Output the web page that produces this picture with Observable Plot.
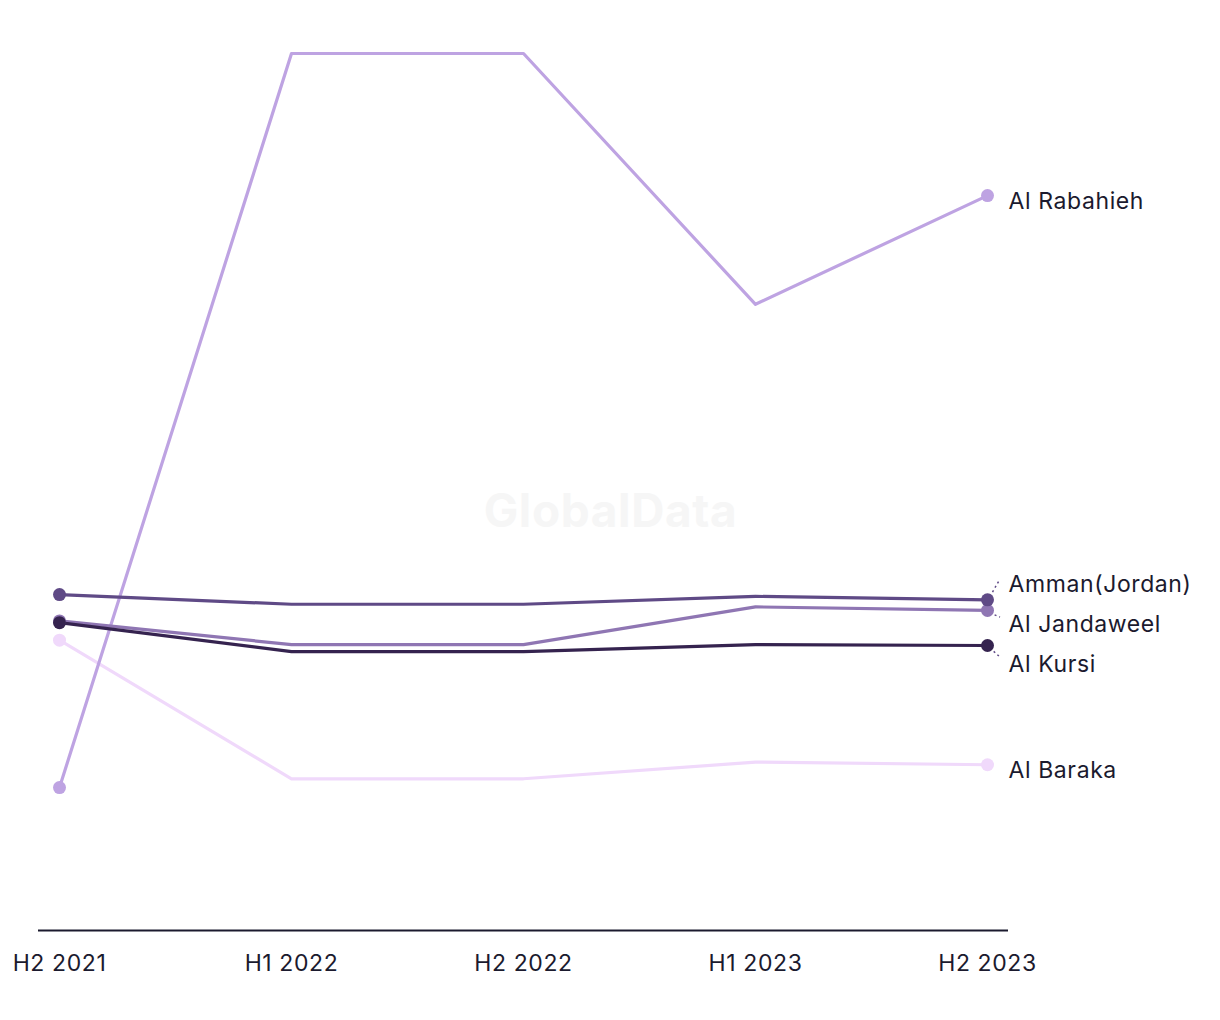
<!DOCTYPE html>
<html>
<head>
<meta charset="utf-8">
<script src="https://cdn.jsdelivr.net/npm/d3@7"></script>
<script src="https://cdn.jsdelivr.net/npm/@observablehq/plot@0.6"></script>
<style>
  html, body { margin: 0; padding: 0; background: #ffffff; }
  #chart { width: 1220px; height: 1020px; position: relative; }
  #chart svg text { letter-spacing: 0.6px; }
</style>
</head>
<body>
<div id="chart"></div>
<script>
// ---- Data (relative index; no y axis shown) ----
const periods = ["H2 2021", "H1 2022", "H2 2022", "H1 2023", "H2 2023"];
const companies = ["Al Baraka", "Al Rabahieh", "Al Jandaweel", "Amman(Jordan)", "Al Kursi"];
const alBaraka     = [33.1, 17.3, 17.3, 19.2, 18.9];
const alRabahieh   = [16.3, 100, 100, 71.4, 83.8];
const alJandaweel  = [35.3, 32.6, 32.6, 36.9, 36.5];
const ammanJordan  = [38.3, 37.2, 37.2, 38.1, 37.7];
const alKursi      = [35.1, 31.8, 31.8, 32.6, 32.5];
const seriesValues = [alBaraka, alRabahieh, alJandaweel, ammanJordan, alKursi];
const colors = ["#f0d9fb", "#bea3e2", "#8f76b3", "#5f4a86", "#35234f"];

// ---- Build tidy table ----
const rows = [];
companies.forEach((c, i) => {
  periods.forEach((p, j) => rows.push({company: c, period: p, value: seriesValues[i][j]}));
});
const last = periods[periods.length - 1];
const lastRows = rows.filter(d => d.period === last);

// ---- Layout ----
const W = 1220, H = 1020;
const mTop = 53, mBottom = 90, mLeft = 58, mRight = 232;
const yDomain = [0, 100];
const yScale = Plot.scale({y: {domain: yDomain, range: [H - mBottom, mTop]}});

// Dodge end labels in pixel space
const gap = 40;
const items = lastRows.map(d => ({d, y0: yScale.apply(d.value)})).sort((a, b) => a.y0 - b.y0);
let clusters = items.map(it => ({members: [it], mean: it.y0}));
function place(c) {
  const n = c.members.length;
  const start = c.mean - (n - 1) * gap / 2;
  c.members.forEach((m, k) => m.y = start + k * gap);
}
clusters.forEach(place);
let changed = true;
while (changed) {
  changed = false;
  for (let i = 1; i < clusters.length; i++) {
    const a = clusters[i - 1], b = clusters[i];
    const aLast = a.members[a.members.length - 1].y, bFirst = b.members[0].y;
    if (bFirst - aLast < gap) {
      const members = a.members.concat(b.members);
      const c = {members, mean: d3.mean(members, m => m.y0)};
      place(c);
      clusters.splice(i - 1, 2, c);
      changed = true;
      break;
    }
  }
}
const labels = items.map(it => ({company: it.d.company, value: it.d.value, labelValue: yScale.invert(it.y), moved: Math.abs(it.y - it.y0) > 3}));

const textColor = "#1b1a2e";

const plot = Plot.plot({
  width: W,
  height: H,
  marginTop: mTop,
  marginBottom: mBottom,
  marginLeft: mLeft,
  marginRight: mRight,
  style: {fontFamily: "Inter, 'Noto Sans', sans-serif", fontSize: "23px", color: textColor, background: "#ffffff"},
  x: {type: "point", domain: periods, padding: 0, label: null},
  y: {domain: yDomain, axis: null},
  color: {domain: companies, range: colors},
  marks: [
    Plot.text(["GlobalData"], {frameAnchor: "middle", dx: 87, dy: 20, fontSize: 46, fontWeight: "bold", fill: "#f6f6f6", fontFamily: "Inter, sans-serif"}),
    Plot.axisX({tickSize: 0, tickPadding: 24, fontSize: 23, fill: textColor, label: null}),
    Plot.ruleY([0], {insetLeft: -20, insetRight: -20, stroke: textColor, strokeWidth: 2}),
    Plot.line(rows, {x: "period", y: "value", z: "company", stroke: "company", strokeWidth: 3.2}),
    Plot.dot(rows.filter(d => d.period === periods[0] || d.period === last), {x: "period", y: "value", fill: "company", r: 6.5}),
    Plot.text(labels, {x: () => last, y: "labelValue", text: "company", textAnchor: "start", dx: 21, dy: 6, fill: textColor, fontSize: 23, lineAnchor: "middle"})
  ]
});

// dotted leader lines for labels that were moved
const xs = plot.scale("x"), ys = plot.scale("y");
const svg = d3.select(plot);
const g = svg.append("g").attr("aria-label", "leaders");
labels.filter(l => l.moved).forEach(l => {
  const x0 = xs.apply(last), y0 = ys.apply(l.value), y1 = ys.apply(l.labelValue);
  const dir = Math.sign(y1 - y0);
  g.append("line")
    .attr("x1", x0 + 3).attr("y1", y0 + dir * 3)
    .attr("x2", x0 + 13).attr("y2", y1 - dir * 1)
    .attr("stroke", "#5f4a86").attr("stroke-width", 1.5).attr("stroke-dasharray", "2,3");
});
svg.selectAll("g[aria-label='dot']").raise();
svg.selectAll("g[aria-label='text']").raise();

document.getElementById("chart").appendChild(plot);
</script>
</body>
</html>
